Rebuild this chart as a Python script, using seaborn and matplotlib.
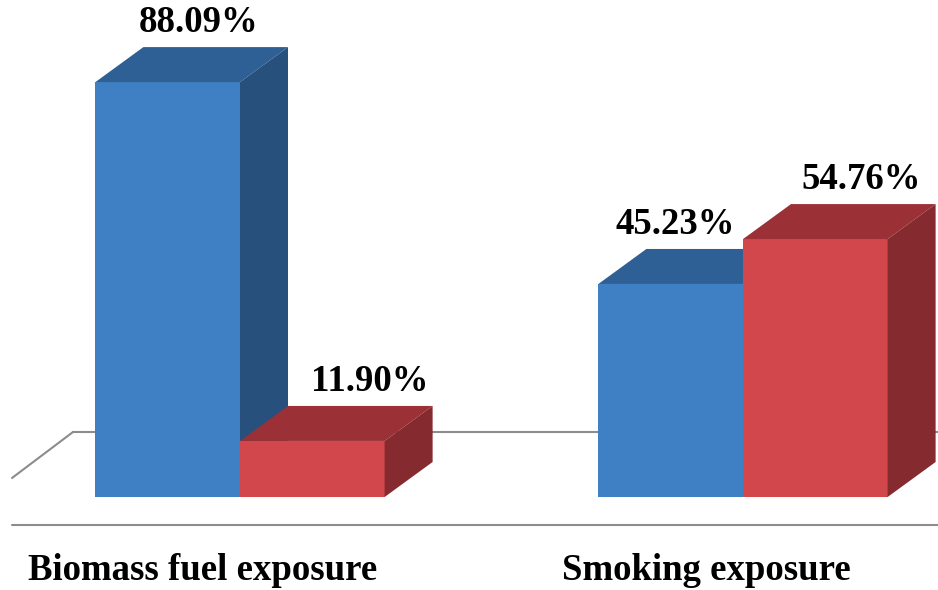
import matplotlib
matplotlib.use("Agg")
import matplotlib.pyplot as plt
from matplotlib.patches import Polygon
import pandas as pd
import seaborn as sns

# data
categories = ["Biomass fuel exposure", "Smoking exposure"]
groups = ["Yes", "No"]
values_yes = [88.09, 45.23]
values_no = [11.90, 54.76]

# colours (front, top, side)
blue = ["#3e80c3", "#2e6095", "#27507d"]
red = ["#d1474b", "#9b3036", "#852a2e"]
floorcolor = "#8c8c8c"

# small horizontal nudges (pixels) of the value labels, per group / category
label_nudge = [[7, -19], [33, 22]]

df = pd.DataFrame({
    "exposure": categories * 2,
    "group": [groups[0]] * 2 + [groups[1]] * 2,
    "pct": values_yes + values_no,
})

sns.set_style("white")
fig = plt.figure(figsize=(9.38, 5.90), dpi=100)
ax = fig.add_axes([0, 0, 1, 1])

sns.barplot(data=df, x="exposure", y="pct", hue="group", palette=[blue[0], red[0]],
            width=0.575, saturation=1, edgecolor="none", linewidth=0, legend=False, ax=ax)

# pixel scale of the layout
px_x = 503.0   # pixels per category step
px_y = 4.71    # pixels per percent
ax.set_xlim(-240 / px_x, (938 - 240) / px_x)
ax.set_ylim(-(590 - 497) / px_y, 497 / px_y)
ax.axis("off")

# 3d depth of bars
ddx, ddy = 48 / px_x, 35 / px_y

# floor outline
fx0 = -240 / px_x + 12 / px_x
fback = 65 / px_y
ffront = 19 / px_y
ax.plot([fx0 + 61 / px_x, ax.get_xlim()[1]], [fback, fback], color=floorcolor, lw=1.5, zorder=1)
ax.plot([fx0, fx0 + 61 / px_x], [ffront, fback], color=floorcolor, lw=1.5, zorder=1)
ax.plot([fx0, ax.get_xlim()[1]], [-28 / px_y, -28 / px_y], color=floorcolor, lw=1.5, zorder=1)

# top and side faces + value labels
for h, cont in enumerate(ax.containers):
    cols = [blue, red][h]
    for i, bar in enumerate(cont):
        x0, w, v = bar.get_x(), bar.get_width(), bar.get_height()
        z = 3 + h
        bar.set_zorder(z)
        top = Polygon([(x0, v), (x0 + w, v), (x0 + w + ddx, v + ddy), (x0 + ddx, v + ddy)],
                      closed=True, facecolor=cols[1], edgecolor="none", zorder=z)
        side = Polygon([(x0 + w, 0), (x0 + w + ddx, ddy), (x0 + w + ddx, v + ddy), (x0 + w, v)],
                       closed=True, facecolor=cols[2], edgecolor="none", zorder=z)
        ax.add_patch(top)
        ax.add_patch(side)
        ax.text(x0 + w / 2 + ddx / 2 + label_nudge[h][i] / px_x, v + ddy + 15 / px_y,
                f"{v:.2f}%", ha="center", va="baseline", color="black",
                fontsize=26.5, fontweight="bold", family="Liberation Serif", zorder=10)

# category labels
for i, c in enumerate(categories):
    ax.text(i - 37 / px_x, -83 / px_y, c, ha="center", va="baseline", color="black",
            fontsize=26.5, fontweight="bold", family="Liberation Serif")

fig.savefig("out.png", dpi=100, facecolor="white")
